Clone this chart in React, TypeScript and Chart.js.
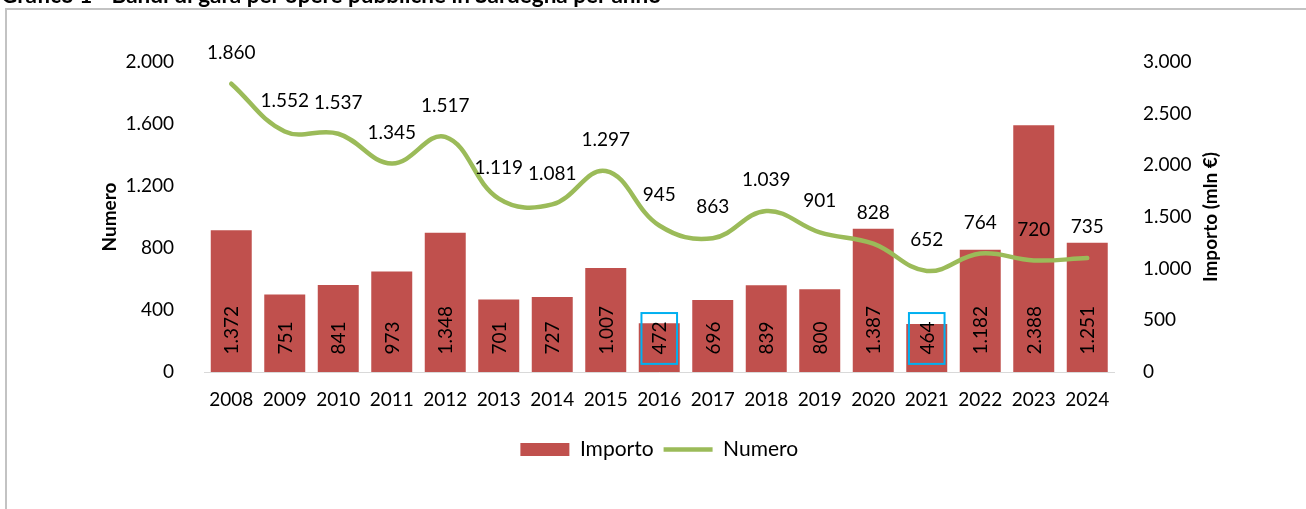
import React, { useEffect, useRef } from 'react';
import { Chart, registerables } from 'chart.js';

Chart.register(...registerables);

// ---- Data ----
const years = ['2008', '2009', '2010', '2011', '2012', '2013', '2014', '2015', '2016', '2017', '2018', '2019', '2020', '2021', '2022', '2023', '2024'];
const importo = [1372, 751, 841, 973, 1348, 701, 727, 1007, 472, 696, 839, 800, 1387, 464, 1182, 2388, 1251];
const numero = [1860, 1552, 1537, 1345, 1517, 1119, 1081, 1297, 945, 863, 1039, 901, 828, 652, 764, 720, 735];
const highlightedYears = ['2016', '2021'];
const numeroTicks = [0, 400, 800, 1200, 1600, 2000];
const importoTicks = [0, 500, 1000, 1500, 2000, 2500, 3000];

const TITLE = 'Grafico 1 - Bandi di gara per opere pubbliche in Sardegna per anno';
const FONT = 'Lato, "Open Sans", sans-serif';
const BAR_COLOR = '#c0504d';
const LINE_COLOR = '#9bbb59';

const fmt = (v: number) => String(v).replace(/\B(?=(\d{3})+(?!\d))/g, '.');

const labelsPlugin = {
  id: 'customLabels',
  afterDatasetsDraw(chart: any) {
    const ctx = chart.ctx as CanvasRenderingContext2D;
    const barMeta = chart.getDatasetMeta(0);
    const lineMeta = chart.getDatasetMeta(1);
    ctx.save();
    ctx.font = `19px ${FONT}`;
    ctx.fillStyle = '#000';
    // bar labels (rotated, inside base)
    barMeta.data.forEach((bar: any, i: number) => {
      const text = fmt(importo[i]);
      const ax = bar.x + 1;
      const ay = bar.base - 17.5;
      ctx.save();
      ctx.translate(ax, ay);
      ctx.rotate(-Math.PI / 2);
      ctx.textAlign = 'left';
      ctx.textBaseline = 'middle';
      ctx.fillText(text, 0, 0);
      ctx.restore();
      if (highlightedYears.includes(years[i])) {
        const w = ctx.measureText(text).width;
        ctx.save();
        ctx.strokeStyle = '#00b0f0';
        ctx.lineWidth = 2;
        ctx.strokeRect(bar.x - 17.8, ay - w - 8.4, 35.6, w + 17.8);
        ctx.restore();
      }
    });
    // line labels
    ctx.textAlign = 'center';
    ctx.textBaseline = 'middle';
    lineMeta.data.forEach((pt: any, i: number) => {
      ctx.fillText(fmt(numero[i]), pt.x, pt.y - 31);
    });
    ctx.restore();
  },
  afterDraw(chart: any) {
    const ctx = chart.ctx as CanvasRenderingContext2D;
    const s = chart.scales.yImporto;
    const area = chart.chartArea;
    ctx.save();
    ctx.font = `bold 19px ${FONT}`;
    ctx.fillStyle = '#000';
    ctx.translate(s.left + 97, (area.top + area.bottom) / 2);
    ctx.rotate(-Math.PI / 2);
    ctx.textAlign = 'center';
    ctx.textBaseline = 'middle';
    ctx.fillText('Importo (mln €)', 0, 0);
    ctx.restore();
  },
};

export default function App() {
  const ref = useRef<HTMLCanvasElement | null>(null);

  useEffect(() => {
    if (!ref.current) return;
    Chart.defaults.font.family = FONT;
    Chart.defaults.color = '#000';
    const chart = new Chart(ref.current, {
      type: 'bar',
      data: {
        labels: years,
        datasets: [
          {
            type: 'bar',
            label: 'Importo',
            data: importo,
            yAxisID: 'yImporto',
            backgroundColor: BAR_COLOR,
            borderWidth: 0,
            barPercentage: 0.766,
            categoryPercentage: 1,
            pointStyle: 'rect',
            order: 2,
          } as any,
          {
            type: 'line',
            label: 'Numero',
            data: numero,
            yAxisID: 'yNumero',
            borderColor: LINE_COLOR,
            backgroundColor: LINE_COLOR,
            borderWidth: 4.5,
            borderCapStyle: 'round',
            borderJoinStyle: 'round',
            tension: 0.4,
            pointRadius: 0,
            pointStyle: 'line',
            order: 1,
          } as any,
        ],
      },
      options: {
        responsive: false,
        animation: false,
        events: [],
        layout: { padding: { left: 0, right: 42, top: 62, bottom: 39 } },
        plugins: {
          tooltip: { enabled: false },
          legend: {
            position: 'bottom',
            fullSize: false,
            labels: {
              usePointStyle: true,
              pointStyleWidth: 49,
              boxHeight: 13,
              padding: 10,
              color: '#000',
              font: { size: 21, family: FONT },
              sort: (a: any, b: any) => a.datasetIndex - b.datasetIndex,
            },
          },
        },
        scales: {
          x: {
            grid: { display: false },
            border: { display: true, color: '#d9d9d9', width: 1 },
            ticks: { padding: 8, font: { size: 19 }, color: '#000', maxRotation: 0, autoSkip: false },
            afterFit: (s: any) => { s.height = 57; },
          },
          yNumero: {
            position: 'left',
            min: numeroTicks[0],
            max: numeroTicks[numeroTicks.length - 1],
            grid: { display: false },
            border: { display: false },
            afterBuildTicks: (s: any) => { s.ticks = numeroTicks.map((v) => ({ value: v })); },
            ticks: { padding: 22.5, font: { size: 19 }, color: '#000', callback: (v: any) => fmt(Number(v)) },
            title: { display: true, text: 'Numero', color: '#000', font: { size: 19, weight: 'bold' }, padding: { top: 98.6, bottom: 0 } },
            afterFit: (s: any) => { s.width = 204.5; },
          },
          yImporto: {
            position: 'right',
            min: importoTicks[0],
            max: importoTicks[importoTicks.length - 1],
            grid: { display: false },
            border: { display: false },
            afterBuildTicks: (s: any) => { s.ticks = importoTicks.map((v) => ({ value: v })); },
            ticks: { padding: 21, font: { size: 19 }, color: '#000', callback: (v: any) => fmt(Number(v)) },
            afterFit: (s: any) => { s.width = 150; },
          },
        },
      } as any,
      plugins: [labelsPlugin],
    });
    return () => chart.destroy();
  }, []);

  return (
    <>
      <div
        style={{
          position: 'fixed',
          left: 1,
          top: -16,
          fontFamily: FONT,
          fontWeight: 'bold',
          fontSize: 22.5,
          lineHeight: '22.5px',
          whiteSpace: 'nowrap',
          color: '#000',
        }}
      >
        {TITLE}
      </div>
      <div
        style={{
          position: 'fixed',
          left: 5,
          top: 8,
          width: 1301,
          height: 501,
          borderLeft: '2px solid #c3c3c3',
          borderTop: '2px solid #c3c3c3',
          boxSizing: 'border-box',
        }}
      />
      <canvas
        ref={ref}
        width={1306}
        height={509}
        style={{ position: 'fixed', left: 0, top: 0, width: 1306, height: 509 }}
      />
    </>
  );
}
